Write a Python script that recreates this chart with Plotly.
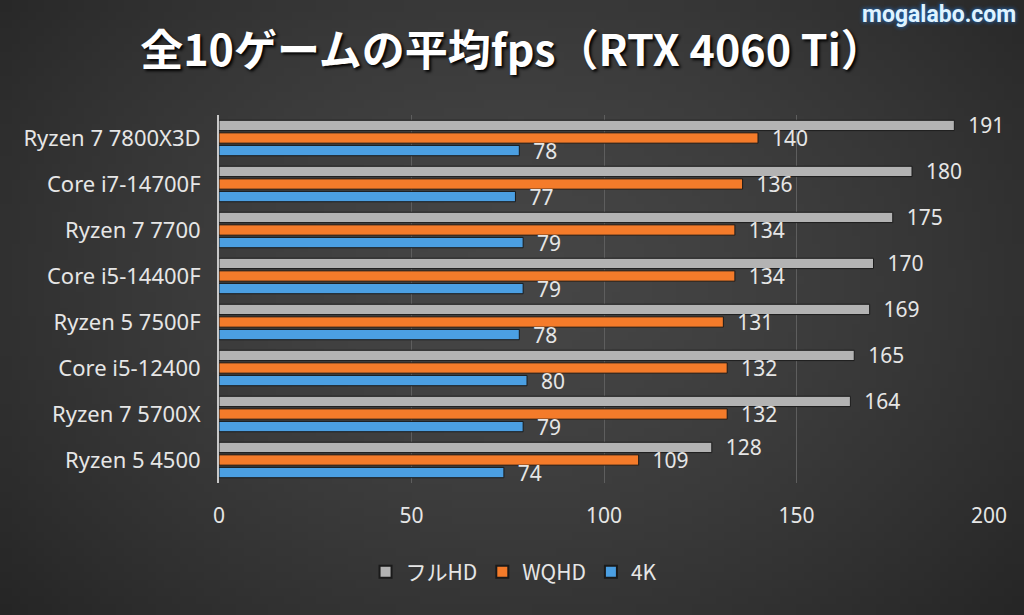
import struct, zlib, base64
import numpy as np
import plotly.graph_objects as go

# ---- data ----
cpus = ["Ryzen 7 7800X3D", "Core i7-14700F", "Ryzen 7 7700", "Core i5-14400F",
        "Ryzen 5 7500F", "Core i5-12400", "Ryzen 7 5700X", "Ryzen 5 4500"]
fhd = [191, 180, 175, 170, 169, 165, 164, 128]
wqhd = [140, 136, 134, 134, 131, 132, 132, 109]
uhd = [78, 77, 79, 79, 78, 80, 79, 74]
series_names = ["フルHD", "WQHD", "4K"]
x_ticks = [0, 50, 100, 150, 200]

W, H = 1024, 615
ML, MR, MT, MB = 219, 35, 115, 132

# ---- background gradient as PNG data URI ----
def make_bg(w=128, h=77):
    yy, xx = np.mgrid[0:h, 0:w]
    cx, cy = w * 0.5, h * 0.45
    d = np.sqrt(((xx - cx) / (w * 0.6)) ** 2 + ((yy - cy) / (h * 0.75)) ** 2)
    v = 70 - 28 * np.clip(d, 0, 1.2) ** 1.5
    img = np.clip(v, 0, 255).astype(np.uint8)
    raw = b"".join(b"\x00" + img[r].tobytes() for r in range(h))
    def chunk(t, data):
        c = struct.pack(">I", len(data)) + t + data
        return c + struct.pack(">I", zlib.crc32(t + data) & 0xffffffff)
    png = b"\x89PNG\r\n\x1a\n" + chunk(b"IHDR", struct.pack(">IIBBBBB", w, h, 8, 0, 0, 0, 0)) \
        + chunk(b"IDAT", zlib.compress(raw, 9)) + chunk(b"IEND", b"")
    return "data:image/png;base64," + base64.b64encode(png).decode()

pw, ph = W - ML - MR, H - MT - MB

colors = ["#b3b3b3", "#f47b2a", "#4b9fe2"]
label_font = dict(family="Noto Sans, Open Sans, sans-serif", size=21, color="#e6e6e6")

fig = go.Figure()
for name, vals, col in zip(series_names, [fhd, wqhd, uhd], colors):
    fig.add_trace(go.Bar(
        y=cpus, x=vals, name=name, orientation="h",
        marker=dict(color=col, line=dict(color="#1a1a1a", width=1)),
        text=[f"  {v}" for v in vals], textposition="outside",
        constraintext="none", textfont=label_font, cliponaxis=False,
    ))

fig.update_layout(
    width=W, height=H,
    margin=dict(l=ML, r=MR, t=MT, b=MB),
    paper_bgcolor="#3a3a3a", plot_bgcolor="rgba(0,0,0,0)",
    barmode="group", bargap=0.18, bargroupgap=0.18,
    font=dict(family="Noto Sans, Noto Sans CJK JP, sans-serif", color="#e6e6e6"),
    title=dict(text="<b>全10ゲームの平均fps（RTX 4060 Ti）</b>", x=0.5, xanchor="center",
               y=1 - 51 / H, yanchor="middle",
               font=dict(family="Noto Sans CJK JP", size=43, color="#ffffff",
                         shadow="2px 2px 3px #000000")),
    legend=dict(orientation="h", xref="container", x=0.502, xanchor="center",
                yref="container", y=1 - 572 / H, yanchor="middle",
                bgcolor="rgba(0,0,0,0)",
                font=dict(size=21, color="#e6e6e6",
                          family="Noto Sans CJK JP, Noto Sans, sans-serif"),
                traceorder="normal", itemsizing="constant"),
    xaxis=dict(range=[0, 200], tickvals=x_ticks, showgrid=True, gridcolor="#5e5e5e",
               gridwidth=1, zeroline=False, showline=False,
               tickfont=dict(size=21, color="#e6e6e6"), ticklabelstandoff=18),
    yaxis=dict(autorange="reversed", showline=True, linecolor="#c8c8c8", linewidth=2,
               showgrid=False, tickfont=dict(size=22, color="#e6e6e6"),
               ticklabelstandoff=12),
    images=[dict(source=make_bg(), xref="paper", yref="paper",
                 x=-ML / pw, y=1 + MT / ph, sizex=W / pw, sizey=H / ph,
                 xanchor="left", yanchor="top", sizing="stretch", layer="below")],
    annotations=[dict(text="<b>mogalabo.com</b>", xref="paper", yref="paper",
                      x=1 + (MR - 6) / pw, y=1 + (MT - 14) / ph, xanchor="right",
                      yanchor="middle", showarrow=False,
                      font=dict(family="Liberation Sans Narrow, Roboto, sans-serif",
                                size=23, color="#dff3ff",
                                shadow="0px 0px 4px #1f78e0"))],
)

fig.write_html("out.html", config={"displayModeBar": False},
               post_script="document.body.style.margin='0';")
